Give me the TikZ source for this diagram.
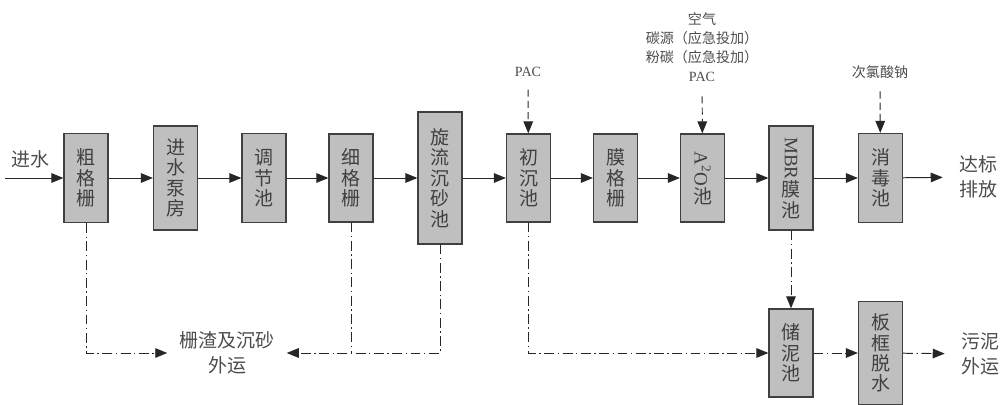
\documentclass[tikz,border=0pt]{standalone}
\usepackage{fontspec}
\setmainfont{Liberation Serif}
\newfontfamily\cjk{Noto Sans CJK SC}
\usepackage{tikz}
\usetikzlibrary{arrows.meta,calc,positioning}

\begin{document}
\begin{tikzpicture}[x=0.025cm,y=-0.025cm,
  unit/.style={draw=black!75,fill=black!25,line width=0.9pt,minimum width=1.1cm,inner sep=0pt,align=center,text=black!75,font=\cjk\fontsize{13.5}{14.5}\selectfont},
  pipe/.style={line width=0.7pt,draw=black!85,-{Triangle[length=3mm,width=2.4mm]}},
  dose/.style={pipe,dash pattern=on 5pt off 3pt},
  mud/.style={pipe,dash pattern=on 7pt off 2.5pt on 1pt off 2.5pt},
  lbl/.style={align=center,text=black!70,font=\cjk\fontsize{13.5}{18}\selectfont},
  tag/.style={align=center,text=black!70,font=\fontsize{10}{13.5}\selectfont}]
\useasboundingbox (0,0) rectangle (1000,405);
% main line
\node[unit,minimum height=2.225cm] (cgs) at (86,178) {粗\\格\\栅};
\node[unit,minimum height=2.6cm] (bf) at (175.5,178) {进\\水\\泵\\房};
\node[unit,minimum height=2.225cm] (tj) at (264,178) {调\\节\\池};
\node[unit,minimum height=2.2cm] (xgs) at (351,178) {细\\格\\栅};
\node[unit,minimum height=3.3cm] (xl) at (440,178) {旋\\流\\沉\\砂\\池};
\node[unit,minimum height=2.2cm] (cc) at (528.5,178) {初\\沉\\池};
\node[unit,minimum height=2.2cm] (mgs) at (615.5,178) {膜\\格\\栅};
\node[unit,minimum height=2.2cm] (ao) at (702.5,178) {\rotatebox{-90}{\rmfamily A\textsuperscript{2}O}\\池};
\node[unit,minimum height=2.6cm] (mbr) at (791,178) {\rotatebox{-90}{\rmfamily MBR}\\膜\\池};
\node[unit,minimum height=2.225cm] (xd) at (880.5,178) {消\\毒\\池};
% sludge line
\node[unit,minimum height=2.2cm] (cn) at (791,353) {储\\泥\\池};
\node[unit,minimum height=2.575cm] (bk) at (880.5,353) {板\\框\\脱\\水};

% labels
\coordinate (in) at (5,178);
\node[lbl] (jinshui) at (30,159) {进水};
\node[lbl,inner xsep=4mm] (dabiao) at (978,177) {达标\\排放};
\node[lbl,inner xsep=3mm] (zhazi) at (227,353) {栅渣及沉砂\\外运};
\node[lbl,inner xsep=4mm] (wuni) at (980,354) {污泥\\外运};
\node[tag] (pac) at (528,72) {PAC};
\node[tag] (aoin) at (702,47) {{\cjk 空气}\\{\cjk 碳源（应急投加）}\\{\cjk 粉碳（应急投加）}\\PAC};
\node[tag] (naclo) at (880,72) {\cjk 次氯酸钠};

% water
\draw[pipe] (in) -- (cgs);
\draw[pipe] (cgs) -- (bf);
\draw[pipe] (bf) -- (tj);
\draw[pipe] (tj) -- (xgs);
\draw[pipe] (xgs) -- (xl);
\draw[pipe] (xl) -- (cc);
\draw[pipe] (cc) -- (mgs);
\draw[pipe] (mgs) -- (ao);
\draw[pipe] (ao) -- (mbr);
\draw[pipe] (mbr) -- (xd);
\draw[pipe] (xd) -- (dabiao);

% dosing
\draw[dose,shorten <=2mm] (pac) -- (cc);
\draw[dose,shorten <=2.5mm] (aoin) -- (ao);
\draw[dose,shorten <=2mm] (naclo) -- (xd);

% screenings and sludge
\draw[mud] (cgs.south) |- (zhazi.west);
\draw[mud] (xl.south) |- (zhazi.east);
\draw[mud,-] (xgs.south) -- (xgs.south |- zhazi.east);
\draw[mud] (cc.south) |- (cn.west);
\draw[mud] (mbr) -- (cn);
\draw[mud] (cn) -- (bk);
\draw[mud] (bk) -- (wuni);
\end{tikzpicture}
\end{document}
